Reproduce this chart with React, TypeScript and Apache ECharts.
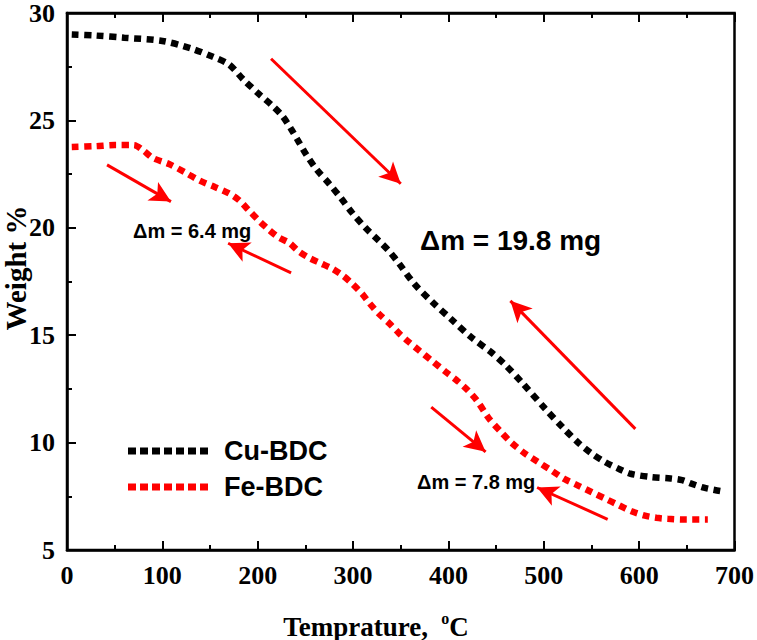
import React, { useEffect, useRef } from "react";
import * as echarts from "echarts";

// temperature (°C), weight
const cuTemp = [5, 30, 60, 100, 130, 153, 170, 185, 202, 215, 226, 235, 243, 251, 262, 275, 287, 299, 313, 327, 338, 348, 364, 383, 404, 424, 445, 460, 477, 501, 520, 536, 550, 564, 580, 591, 612, 633, 645, 654, 668, 685];
const cuWeight = [29.0, 28.95, 28.85, 28.7, 28.35, 27.96, 27.6, 26.9, 26.2, 25.7, 25.2, 24.6, 24.0, 23.4, 22.7, 22.05, 21.4, 20.7, 20.0, 19.4, 18.9, 18.35, 17.4, 16.55, 15.7, 14.9, 14.2, 13.6, 12.8, 11.6, 10.7, 10.0, 9.5, 9.1, 8.75, 8.55, 8.4, 8.33, 8.25, 8.1, 7.9, 7.75];

const feTemp = [5, 30, 50, 70, 80, 90, 107, 125, 139, 155, 170, 180, 191, 202, 212, 222, 233, 243, 254, 266, 278, 290, 299, 310, 317, 327, 338, 348, 358, 369, 383, 397, 410, 420, 430, 442, 455, 466, 480, 494, 508, 522, 536, 550, 564, 578, 592, 606, 618, 630, 650, 672];
const feWeight = [23.76, 23.8, 23.85, 23.85, 23.6, 23.25, 22.97, 22.55, 22.2, 21.9, 21.6, 21.3, 20.8, 20.3, 19.9, 19.55, 19.3, 18.9, 18.6, 18.35, 18.1, 17.75, 17.4, 16.9, 16.5, 16.0, 15.55, 15.1, 14.7, 14.3, 13.8, 13.3, 12.85, 12.45, 11.95, 11.15, 10.5, 10.0, 9.5, 9.1, 8.7, 8.3, 8.0, 7.7, 7.4, 7.1, 6.8, 6.6, 6.5, 6.45, 6.42, 6.42];

// arrows: [fromT, fromW, toT, toW]
const arrows = [
    [214, 27.87, 350, 22.05],
    [596, 10.64, 465, 16.6],
    [42, 22.93, 109, 21.22],
    [235, 17.9, 169, 19.28],
    [382, 11.65, 439, 9.57],
    [567, 6.43, 493, 7.91],
];

const serif = '"Liberation Serif", "Times New Roman", serif';
const sans = '"Liberation Sans", Arial, sans-serif';

// dotted legend sample: 7 square dots
const dotIcon = "path://M0,0h8v7h-8z M12,0h8v7h-8z M24,0h8v7h-8z M36,0h8v7h-8z M48,0h8v7h-8z M60,0h8v7h-8z M72,0h8v7h-8z";

const App: React.FC = () => {
    const chartRef = useRef<HTMLDivElement>(null);

    useEffect(() => {
        if (!chartRef.current) return;
        const chart = echarts.init(chartRef.current, null, { renderer: "svg" });
        const dotted = (color: string) => ({ color, width: 6.5, type: [7, 5.5], cap: "butt" });
        chart.setOption({
            animation: false,
            grid: { left: 67, top: 11, right: 20, bottom: 90, show: true, borderColor: "#000", borderWidth: 2.5 },
            legend: {
                data: [
                    { name: "Cu-BDC", icon: dotIcon },
                    { name: "Fe-BDC", icon: dotIcon },
                ],
                orient: "vertical",
                left: 123,
                top: 431,
                itemWidth: 80,
                itemHeight: 7,
                itemGap: 6,
                textStyle: { fontFamily: sans, fontWeight: "bold", fontSize: 27, color: "#000", lineHeight: 30, padding: [0, 0, 0, 11] },
            },
            xAxis: [
                {
                    type: "value", min: 0, max: 700, interval: 100,
                    axisLine: { lineStyle: { color: "#000", width: 2.5 } },
                    axisTick: { inside: true, length: 9, lineStyle: { width: 2 } },
                    minorTick: { show: true, splitNumber: 2, length: 5, lineStyle: { color: "#000", width: 2 } },
                    splitLine: { show: false },
                    axisLabel: { fontFamily: serif, fontWeight: "bold", fontSize: 26, color: "#000", margin: 12 },
                },
                {
                    type: "value", position: "top", min: 0, max: 700, interval: 100,
                    axisLine: { lineStyle: { color: "#000", width: 2.5 } },
                    axisTick: { inside: true, length: 9, lineStyle: { width: 2 } },
                    minorTick: { show: true, splitNumber: 2, length: 5, lineStyle: { color: "#000", width: 2 } },
                    splitLine: { show: false },
                    axisLabel: { show: false },
                },
            ],
            yAxis: {
                type: "value", min: 5, max: 30, interval: 5,
                axisLine: { show: true, lineStyle: { color: "#000", width: 2.5 } },
                axisTick: { show: true, inside: true, length: 9, lineStyle: { width: 2 } },
                minorTick: { show: true, splitNumber: 2, length: 5, lineStyle: { color: "#000", width: 2 } },
                splitLine: { show: false },
                axisLabel: { fontFamily: serif, fontWeight: "bold", fontSize: 26, color: "#000", margin: 12 },
            },
            series: [
                {
                    name: "Cu-BDC", type: "line", smooth: 0.3, symbol: "none",
                    data: cuTemp.map((t, i) => [t, cuWeight[i]]),
                    lineStyle: dotted("#000"), itemStyle: { color: "#000" },
                },
                {
                    name: "Fe-BDC", type: "line", smooth: 0.3, symbol: "none",
                    data: feTemp.map((t, i) => [t, feWeight[i]]),
                    lineStyle: dotted("#ff0000"), itemStyle: { color: "#ff0000" },
                    markLine: {
                        silent: true,
                        symbol: ["none", "arrow"],
                        symbolSize: [16, 21],
                        label: { show: false },
                        lineStyle: { color: "#ff0000", width: 3, type: "solid" },
                        data: arrows.map(a => [{ coord: [a[0], a[1]] }, { coord: [a[2], a[3]] }]),
                    },
                },
            ],
            graphic: [
                { type: "text", x: 420, y: 240, style: { text: "Δm = 19.8 mg", font: `bold 28px ${sans}`, fill: "#000", align: "left", verticalAlign: "middle" } },
                { type: "text", x: 133, y: 231, style: { text: "Δm = 6.4 mg", font: `bold 20px ${sans}`, fill: "#000", align: "left", verticalAlign: "middle" } },
                { type: "text", x: 417, y: 482, style: { text: "Δm = 7.8 mg", font: `bold 20px ${sans}`, fill: "#000", align: "left", verticalAlign: "middle" } },
                { type: "text", x: 16, y: 268, rotation: Math.PI / 2, style: { text: "Weight %", font: `bold 29px ${serif}`, fill: "#000", align: "center", verticalAlign: "middle" } },
                {
                    type: "text", x: 376, y: 625,
                    style: {
                        text: "{a|Temprature,  }{s|o}{a|C}",
                        fill: "#000", align: "center", verticalAlign: "middle",
                        rich: {
                            a: { fontFamily: serif, fontWeight: "bold", fontSize: 27, lineHeight: 30, verticalAlign: "bottom" },
                            s: { fontFamily: serif, fontWeight: "bold", fontSize: 16, lineHeight: 30, verticalAlign: "top", padding: [0, 0, 12, 0] },
                        },
                    },
                },
            ],
        });
        return () => chart.dispose();
    }, []);

    return <div ref={chartRef} style={{ position: "fixed", left: 0, top: 0, width: 757, height: 640, background: "#fff" }} />;
};

export default App;
